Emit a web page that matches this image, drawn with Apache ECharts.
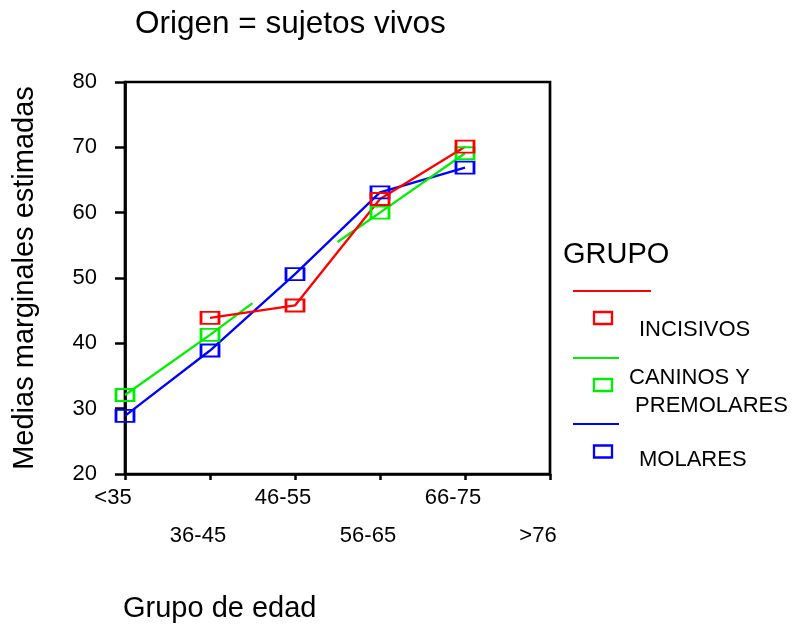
<!DOCTYPE html>
<html>
<head>
<meta charset="utf-8">
<title>Medias marginales estimadas</title>
<script src="https://cdn.jsdelivr.net/npm/echarts@6/dist/echarts.min.js"></script>
<style>
  html, body { margin: 0; padding: 0; background: #fff; }
  #chart { width: 802px; height: 628px; }
</style>
</head>
<body>
<div id="chart"></div>
<script>
// Age groups along the x axis
const ageGroups = ['<35', '36-45', '46-55', '56-65', '66-75', '>76'];

// Estimated marginal means per tooth group (null = no estimate)
const incisivos = [null, 43.9, 45.8, 62.1, 70.1, null];
const caninosPremolares = [32.1, 41.3, 51.0, 60.0, 69.1, null];
const molares = [28.9, 38.9, 50.6, 63.1, 66.9, null];

// Cells that have an estimate but no marker: neighbouring segments stop halfway
const caninosSinMarca = [2];

const groupNames = ['INCISIVOS', 'CANINOS Y PREMOLARES', 'MOLARES'];
const legendLabels = ['INCISIVOS', 'CANINOS Y\n PREMOLARES', 'MOLARES'];
const groupColors = ['#ff0000', '#00ee00', '#0000ff'];

const yTicks = { min: 20, max: 80, step: 10 };

const FONT = '"Liberation Sans", Arial, Helvetica, sans-serif';

function toPoints(values, hidden) {
  hidden = hidden || [];
  const pts = [];
  values.forEach(function (v, i) {
    if (v == null) { pts.push([i, '-']); return; }
    if (hidden.indexOf(i) >= 0) {
      const prev = values[i - 1], next = values[i + 1];
      if (prev != null) pts.push({ value: [i - 0.5, (prev + v) / 2], symbol: 'none' });
      pts.push([i, '-']);
      if (next != null) pts.push({ value: [i + 0.5, (v + next) / 2], symbol: 'none' });
      return;
    }
    pts.push([i, v]);
  });
  return pts;
}

function lineSeries(name, values, color, hidden) {
  return {
    name: name,
    type: 'line',
    data: toPoints(values, hidden),
    connectNulls: false,
    symbol: 'rect',
    symbolSize: [18, 12],
    showSymbol: true,
    lineStyle: { color: color, width: 2.3 },
    itemStyle: { color: 'rgba(0,0,0,0)', borderColor: color, borderWidth: 2.3 },
    emphasis: { disabled: true },
    animation: false,
    z: 3
  };
}

const chart = echarts.init(document.getElementById('chart'), null, { renderer: 'canvas' });

// Legend: a line swatch, then a hollow square next to each label
const legendGraphics = [{
  type: 'text', left: 563, top: 240,
  style: { text: 'GRUPO', font: '29px ' + FONT, fill: '#000' }
}];
const legendRows = [
  { lineY: 291, lineEnd: 651, boxY: 318, textX: 639, textY: 330 },
  { lineY: 358, lineEnd: 619, boxY: 385, textX: 629, textY: 392 },
  { lineY: 424, lineEnd: 619, boxY: 451.5, textX: 639, textY: 460 }
];
legendRows.forEach(function (r, i) {
  legendGraphics.push({
    type: 'line',
    shape: { x1: 573, y1: r.lineY, x2: r.lineEnd, y2: r.lineY },
    style: { stroke: groupColors[i], lineWidth: 2 }
  });
  legendGraphics.push({
    type: 'rect',
    shape: { x: 594, y: r.boxY - 6, width: 18, height: 12 },
    style: { stroke: groupColors[i], lineWidth: 2.3, fill: 'none' }
  });
  legendGraphics.push({
    type: 'text', x: r.textX, y: r.textY,
    style: {
      text: legendLabels[i], font: '22px ' + FONT, fill: '#000',
      textVerticalAlign: 'middle', lineHeight: 28
    }
  });
});

chart.setOption({
  backgroundColor: '#fff',
  animation: false,
  textStyle: { fontFamily: FONT },
  grid: {
    left: 125, top: 82, width: 425, height: 392,
    show: true, borderColor: '#000', borderWidth: 2.7
  },
  xAxis: {
    type: 'value',
    min: 0, max: ageGroups.length - 1, interval: 1,
    splitLine: { show: false },
    axisLine: { show: true, onZero: false, lineStyle: { color: '#000', width: 2.7 } },
    axisTick: { show: true, length: 6, lineStyle: { color: '#000', width: 2.5 } },
    axisLabel: {
      margin: 5,
      color: '#000',
      fontSize: 22,
      lineHeight: 38,
      padding: [0, 24, 0, 0],
      formatter: function (v) {
        const i = Math.round(v);
        return (i % 2 ? '\n' : '') + ageGroups[i];
      }
    }
  },
  yAxis: {
    type: 'value',
    min: yTicks.min, max: yTicks.max, interval: yTicks.step,
    name: 'Medias marginales estimadas',
    nameLocation: 'middle',
    nameGap: 86,
    nameTextStyle: { fontSize: 29, color: '#000' },
    splitLine: { show: false },
    axisLine: { show: true, lineStyle: { color: '#000', width: 2.7 } },
    axisTick: { show: true, length: 10, lineStyle: { color: '#000', width: 2.5 } },
    axisLabel: { margin: 28, color: '#000', fontSize: 22 }
  },
  graphic: [
    {
      type: 'text', left: 135, top: 8,
      style: { text: 'Origen = sujetos vivos', font: '31.5px ' + FONT, fill: '#000' }
    },
    {
      type: 'text', left: 123, top: 594,
      style: { text: 'Grupo de edad', font: '29px ' + FONT, fill: '#000' }
    }
  ].concat(legendGraphics),
  series: [
    lineSeries(groupNames[2], molares, groupColors[2]),
    lineSeries(groupNames[1], caninosPremolares, groupColors[1], caninosSinMarca),
    lineSeries(groupNames[0], incisivos, groupColors[0])
  ]
});
</script>
</body>
</html>
